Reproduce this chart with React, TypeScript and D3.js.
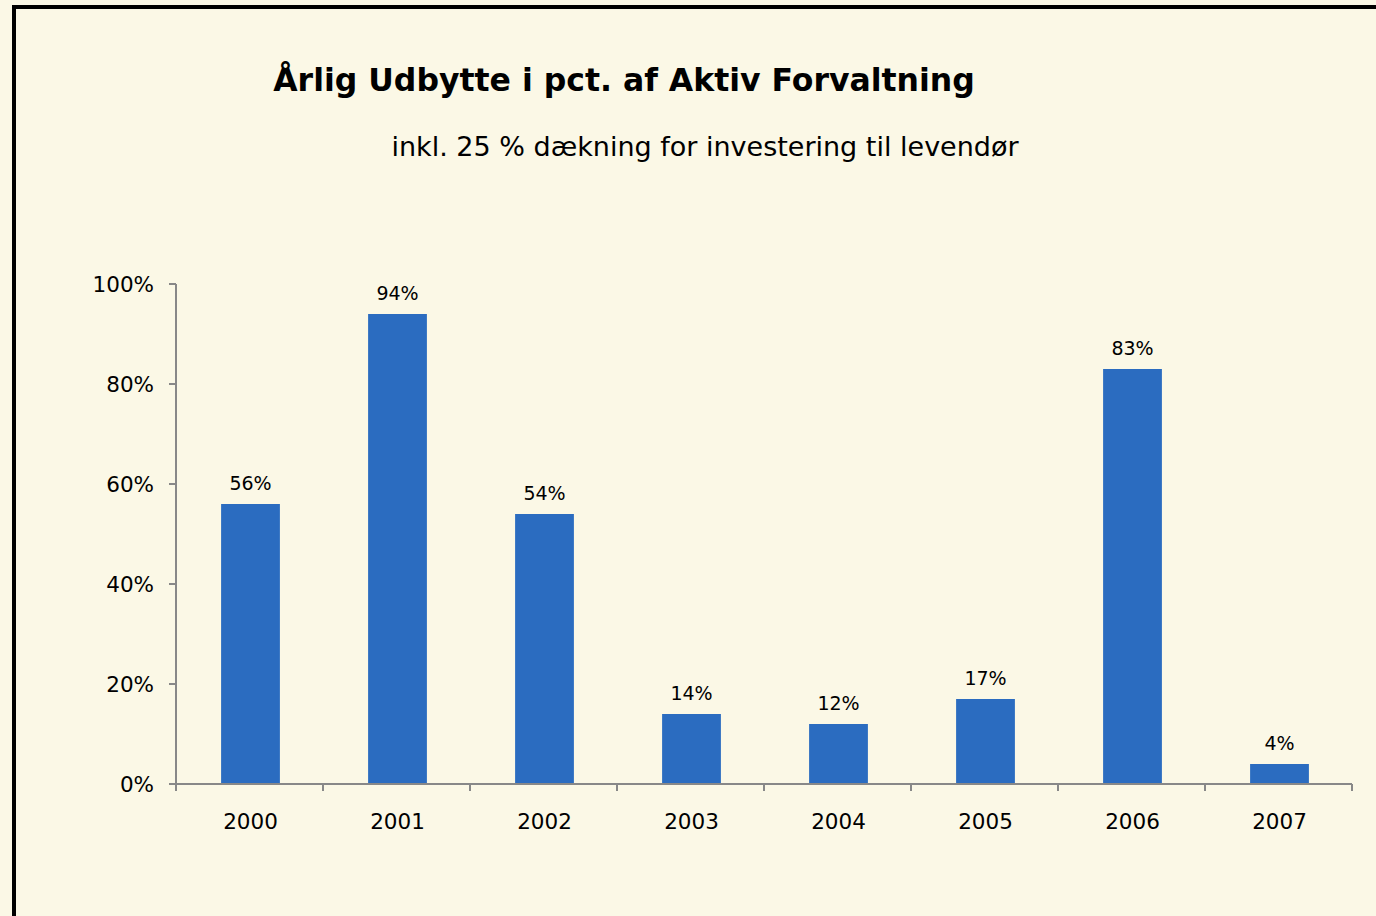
import { useEffect, useRef } from 'react'
import * as d3 from 'd3'

const years = ['2000', '2001', '2002', '2003', '2004', '2005', '2006', '2007']
const values = [56, 94, 54, 14, 12, 17, 83, 4]
const yTicks = [0, 20, 40, 60, 80, 100]

const title = 'Årlig Udbytte i pct. af Aktiv Forvaltning'
const subtitle = 'inkl. 25 % dækning for investering til levendør'

export default function App() {
  const svgRef = useRef<SVGSVGElement>(null)

  useEffect(() => {
    if (!svgRef.current) return
    const width = 1376
    const height = 916
    const svg = d3.select(svgRef.current)
    svg.selectAll('*').remove()
    svg.attr('width', width).attr('height', height)

    const font = '"DejaVu Sans", Verdana, sans-serif'

    svg.append('rect').attr('width', width).attr('height', height).attr('fill', '#fbf8e6')
    // frame, runs off the right and bottom edge
    svg.append('rect')
      .attr('x', 14).attr('y', 7)
      .attr('width', width + 20).attr('height', height + 20)
      .attr('fill', 'none').attr('stroke', '#000').attr('stroke-width', 4)

    svg.append('text')
      .attr('x', 624).attr('y', 91)
      .attr('text-anchor', 'middle')
      .attr('font-family', font).attr('font-weight', 'bold').attr('font-size', 31.5)
      .attr('fill', '#000')
      .text(title)

    svg.append('text')
      .attr('x', 705).attr('y', 156)
      .attr('text-anchor', 'middle')
      .attr('font-family', font).attr('font-size', 27)
      .attr('fill', '#000')
      .text(subtitle)

    const left = 176, right = 1352, top = 284, bottom = 784

    const x = d3.scaleBand().domain(years).range([left, right]).paddingInner(0.6).paddingOuter(0.3)
    const xTick = d3.scaleLinear().domain([0, years.length]).range([left, right])
    const y = d3.scaleLinear().domain([0, 100]).range([bottom, top])

    const axisColor = '#888'

    // bars
    svg.append('g').selectAll('rect')
      .data(values)
      .join('rect')
      .attr('x', (_, i) => x(years[i])! + 1)
      .attr('y', d => y(d))
      .attr('width', x.bandwidth())
      .attr('height', d => bottom - y(d))
      .attr('fill', '#2b6cc0')

    // value labels
    svg.append('g').selectAll('text')
      .data(values)
      .join('text')
      .attr('x', (_, i) => x(years[i])! + x.bandwidth() / 2 + 1)
      .attr('y', d => y(d) - 14)
      .attr('text-anchor', 'middle')
      .attr('font-family', font).attr('font-size', 19)
      .attr('fill', '#000')
      .text(d => `${d}%`)

    // y axis
    const yAxis = svg.append('g')
    yAxis.append('line')
      .attr('x1', left).attr('x2', left).attr('y1', top).attr('y2', bottom)
      .attr('stroke', axisColor).attr('stroke-width', 2)
    yAxis.selectAll('line.tick')
      .data(yTicks)
      .join('line')
      .attr('class', 'tick')
      .attr('x1', left - 7).attr('x2', left)
      .attr('y1', d => y(d)).attr('y2', d => y(d))
      .attr('stroke', axisColor).attr('stroke-width', 2)
    yAxis.selectAll('text')
      .data(yTicks)
      .join('text')
      .attr('x', 154).attr('y', d => y(d) + 7.5)
      .attr('text-anchor', 'end')
      .attr('font-family', font).attr('font-size', 21.5)
      .attr('fill', '#000')
      .text(d => `${d}%`)

    // x axis
    const xAxis = svg.append('g')
    xAxis.append('line')
      .attr('x1', left - 7).attr('x2', right).attr('y1', bottom).attr('y2', bottom)
      .attr('stroke', axisColor).attr('stroke-width', 2)
    xAxis.selectAll('line.tick')
      .data(d3.range(years.length + 1))
      .join('line')
      .attr('class', 'tick')
      .attr('x1', d => xTick(d)).attr('x2', d => xTick(d))
      .attr('y1', bottom).attr('y2', bottom + 7)
      .attr('stroke', axisColor).attr('stroke-width', 2)
    xAxis.selectAll('text')
      .data(years)
      .join('text')
      .attr('x', d => x(d)! + x.bandwidth() / 2 + 1)
      .attr('y', 829)
      .attr('text-anchor', 'middle')
      .attr('font-family', font).attr('font-size', 21.5)
      .attr('fill', '#000')
      .text(d => d)
  }, [])

  return (
    <div style={{ position: 'fixed', left: 0, top: 0 }}>
      <svg ref={svgRef} style={{ display: 'block' }} />
    </div>
  )
}
